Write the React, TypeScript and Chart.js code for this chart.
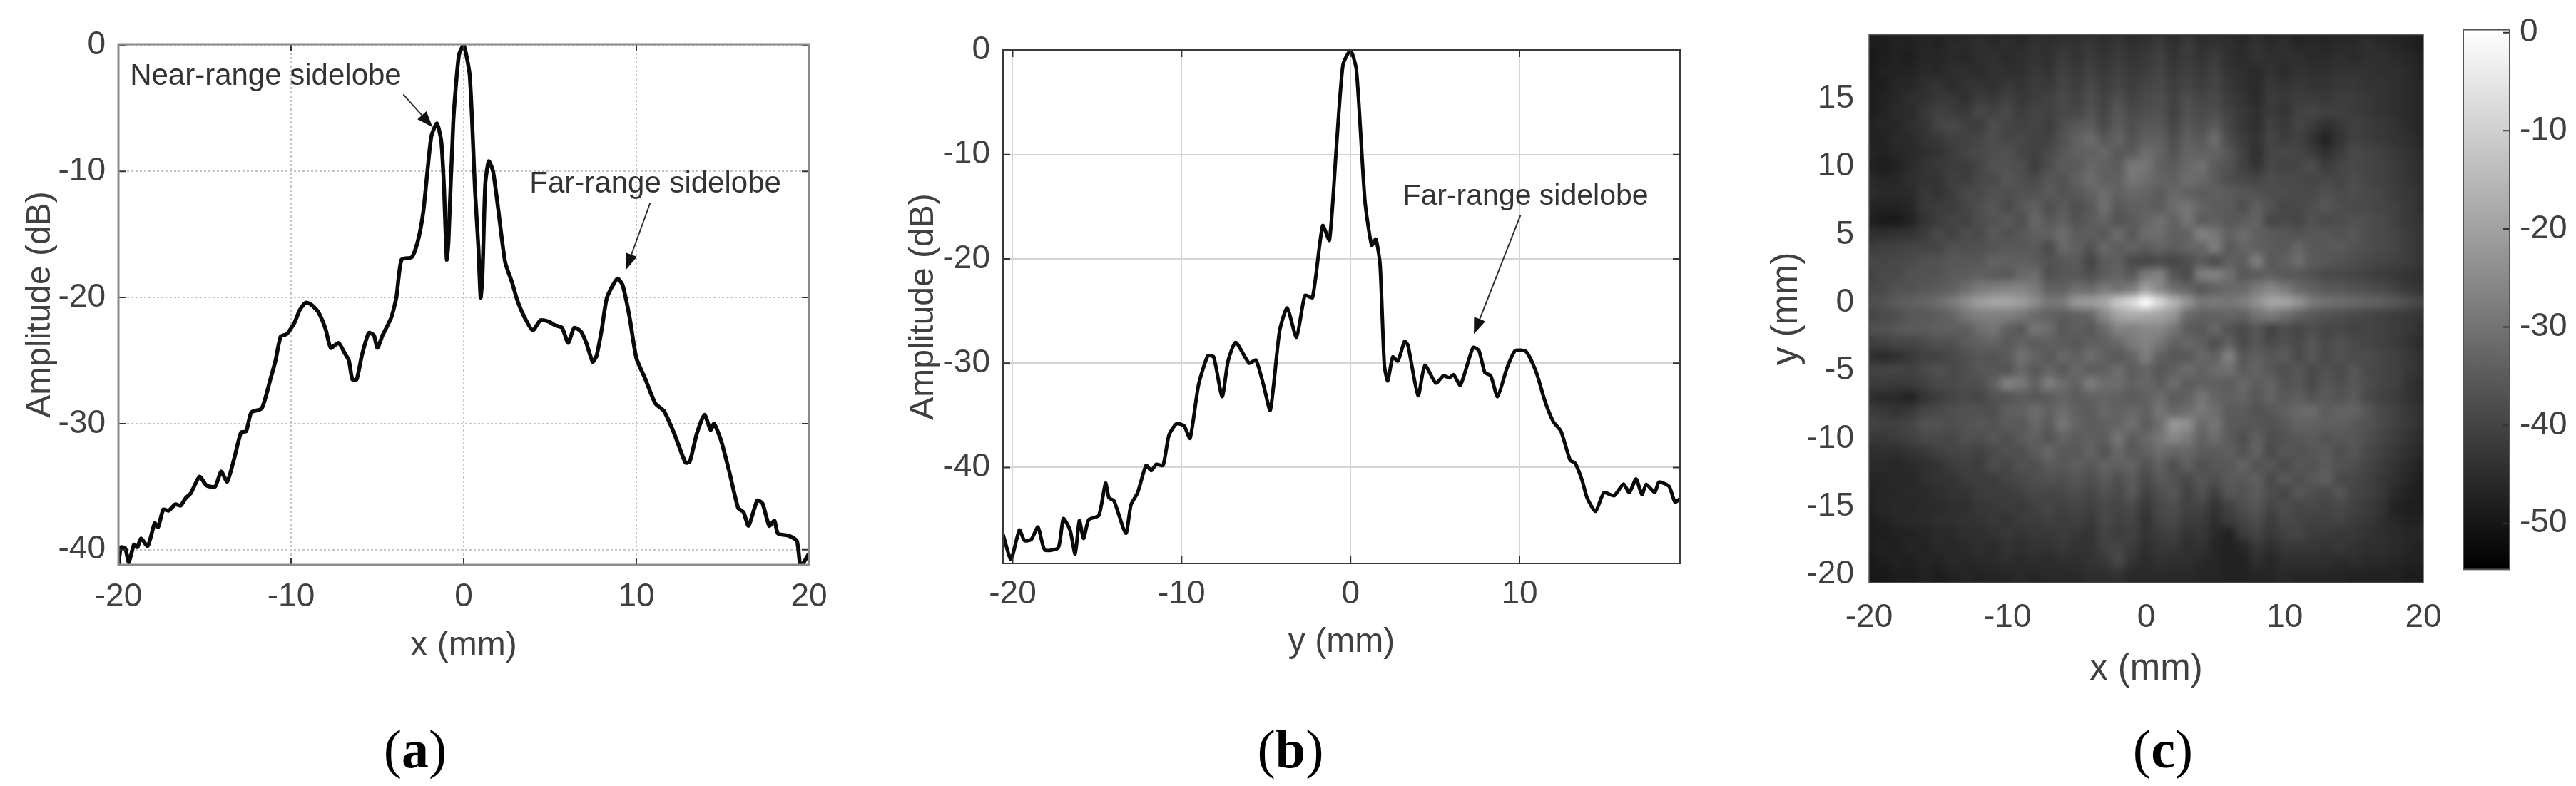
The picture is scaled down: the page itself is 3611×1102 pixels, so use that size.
import React, { useEffect, useRef } from "react";
import { Chart, registerables } from "chart.js";

Chart.register(...registerables);

// ---------- panel (a) ----------
const aX = [-20,-19.85,-19.6,-19.4,-19.1,-18.9,-18.7,-18.3,-17.9,-17.7,-17.4,-17.1,-16.7,-16.4,-16.1,-15.8,-15.3,-14.9,-14.4,-14.05,-13.7,-13.3,-12.9,-12.6,-12.3,-11.7,-11.2,-10.9,-10.6,-10.25,-9.8,-9.5,-9.15,-8.8,-8.4,-8,-7.7,-7.25,-6.9,-6.65,-6.45,-6.2,-5.9,-5.5,-5.2,-5,-4.7,-4.2,-3.9,-3.6,-3,-2.65,-2.34,-2.1,-1.87,-1.55,-1.3,-1.15,-0.98,-0.88,-0.6,-0.28,0,0.35,0.66,0.85,0.98,1.08,1.25,1.45,1.7,2,2.4,2.8,3.1,3.5,4,4.45,4.9,5.3,5.7,6.05,6.4,6.8,7.1,7.47,7.7,8,8.3,8.9,9.2,9.6,10,10.5,11.1,11.6,12.2,12.85,13.1,13.5,13.95,14.3,14.5,14.9,15.4,15.9,16.2,16.5,17,17.3,17.7,18,18.2,18.85,19.3,19.5,19.7,20];
const aY = [-41.2,-39.8,-39.9,-41,-39.6,-39.8,-39.1,-39.7,-37.9,-38.2,-36.8,-36.9,-36.4,-36.5,-35.9,-35.5,-34.2,-34.9,-35,-33.8,-34.6,-32.8,-30.7,-30.6,-29.1,-28.8,-26.5,-25,-23.1,-22.9,-22,-21,-20.4,-20.6,-21.2,-22.5,-24,-23.6,-24.4,-25,-26.5,-26.5,-24.6,-22.8,-23,-24,-23,-21.6,-20,-17,-16.8,-15.5,-13.2,-10,-7.2,-6.2,-7.6,-11,-17,-15.5,-6,-0.8,0,-2.4,-11.6,-16,-20,-18.5,-11,-9.2,-10,-13,-17.2,-18.8,-20.2,-21.5,-22.6,-21.8,-21.9,-22.2,-22.4,-23.6,-22.4,-22.7,-23.6,-25.1,-24.6,-22.5,-20,-18.5,-19,-21.5,-24.8,-26.4,-28.4,-29,-30.8,-33.1,-33,-30.8,-29.3,-30.5,-30,-31.3,-33.9,-36.7,-37,-38.1,-36.1,-36.3,-38.1,-37.7,-38.7,-38.9,-39.3,-41.3,-41,-40.3];
const aXTicks = [-20, -10, 0, 10, 20];
const aYTicks = [0, -10, -20, -30, -40];

// ---------- panel (b) ----------
const bX = [-20.57,-20.1,-19.6,-19.3,-18.9,-18.5,-18.1,-17.3,-17,-16.6,-16.3,-16.05,-15.8,-15.5,-14.9,-14.5,-14.3,-14,-13.3,-13,-12.6,-12.1,-11.8,-11.5,-11.1,-10.75,-10.3,-9.85,-9.5,-9,-8.45,-8.1,-7.6,-7.25,-6.8,-6,-5.6,-5.15,-4.75,-4.2,-3.75,-3.2,-2.7,-2.25,-1.65,-1.25,-0.85,-0.45,0,0.35,0.85,1.25,1.5,1.75,2,2.2,2.5,2.8,3.2,3.4,4,4.4,5.05,5.5,5.85,6.1,6.5,7.25,7.6,7.95,8.3,8.7,9.25,9.75,10.4,11,11.5,12,12.45,13,13.3,13.7,14,14.5,15,15.6,16.15,16.5,16.9,17.25,17.5,18,18.25,18.85,19.2,19.5];
const bY = [-46.4,-48.8,-46,-47,-46.9,-45.7,-47.9,-47.7,-44.9,-46,-48.3,-45.1,-46.8,-45,-44.6,-41.5,-42.9,-43.2,-46.3,-43.6,-42.4,-39.8,-40.3,-39.7,-39.8,-36.9,-35.8,-36,-37.2,-32.1,-29.3,-29.4,-33.2,-29.8,-28,-30,-29.7,-32.1,-34.5,-26.9,-24.7,-27.5,-23.5,-23.7,-16.8,-18.2,-9.6,-1.4,0,-1.9,-14.4,-18.7,-18.1,-20.6,-30.2,-31.7,-29.4,-29.8,-27.9,-28.3,-33.1,-30.2,-31.9,-31.2,-31.4,-31.1,-32.1,-28.5,-28.8,-30.9,-31.2,-33.2,-30.5,-28.8,-28.9,-30.9,-33.6,-35.6,-36.5,-39.3,-39.6,-41.2,-42.9,-44.2,-42.4,-42.7,-41.6,-42.4,-41.1,-42.6,-41.6,-42.4,-41.4,-41.8,-43.3,-43];
const bXTicks = [-20, -10, 0, 10];
const bYTicks = [0, -10, -20, -30, -40];

// ---------- panel (c): attenuation in dB below the peak, one row per y, one column per x ----------
const cColumns = [-20,-19,-18,-17,-16,-15,-14,-13,-12,-11,-10,-9,-8,-7,-6,-5,-4,-3,-2,-1,0,1,2,3,4,5,6,7,8,9,10,11,12,13,14,15,16,17,18,19,20];
const cRows = [19,18,17,16,15,14,13,12,11,10,9,8,7,6,5,4,3,2,1,0,-1,-2,-3,-4,-5,-6,-7,-8,-9,-10,-11,-12,-13,-14,-15,-16,-17,-18,-19,-20];
const cDepth = [
[51,51,50,50,49,50,48,48,47,48,47,48,46,47,46,46,45,47,45,47,46,44,47,44,47,46,47,48,46,48,47,49,48,49,48,48,47,48,49,50,51],
[52,51,50,51,49,49,48,49,47,47,48,47,46,47,44,46,44,46,44,46,45,43,46,44,46,44,47,48,46,47,47,47,48,48,47,48,47,47,48,49,50],
[52,50,50,50,48,49,47,47,48,46,47,47,45,46,43,45,43,45,43,45,44,42,45,43,45,43,46,47,48,46,48,46,47,47,46,46,46,47,47,48,50],
[51,51,49,49,47,46,48,46,46,47,45,46,44,45,42,44,41,44,42,44,42,41,44,42,44,42,45,47,48,45,46,45,46,46,45,45,46,46,47,48,49],
[51,50,49,47,47,45,45,47,44,45,43,45,44,43,41,43,40,43,40,43,41,40,43,40,42,41,44,46,48,44,45,44,44,45,44,44,45,46,47,48,49],
[51,50,48,48,45,43,44,45,41,43,41,44,42,43,41,42,39,42,38,41,40,39,43,39,41,40,43,45,47,44,46,43,42,43,43,44,45,46,47,48,49],
[50,49,49,47,46,42,41,43,44,40,42,43,42,44,40,38,37,41,37,40,38,38,42,38,40,37,42,45,47,43,45,42,44,47,45,43,44,45,46,48,49],
[50,50,48,48,46,45,43,43,42,40,42,41,43,43,39,36,33,38,35,39,36,36,40,36,38,33,41,44,46,42,44,43,46,50,46,43,44,45,46,47,49],
[49,50,49,48,47,46,44,42,41,40,39,42,43,41,38,36,36,34,38,37,33,35,39,35,36,35,38,43,47,42,41,42,44,47,44,41,42,43,45,46,48],
[50,51,50,48,46,45,44,44,42,39,39,40,44,40,37,38,34,36,37,30,31,36,37,34,32,37,39,43,46,41,43,42,40,44,42,41,42,43,44,46,47],
[48,49,49,47,46,46,43,44,41,41,38,40,41,38,39,36,33,36,36,31,33,35,36,33,34,37,40,41,42,40,41,41,42,41,42,40,42,43,44,46,47],
[47,48,48,48,45,46,44,41,41,39,40,39,39,37,39,38,36,33,36,34,35,37,34,36,37,36,37,38,39,40,40,41,41,39,41,40,41,42,44,45,47],
[49,50,50,49,45,44,44,42,40,38,41,38,36,40,37,40,38,32,38,36,36,37,33,31,35,37,37,40,36,39,42,41,40,38,40,41,41,42,43,45,47],
[50,52,52,50,46,44,42,43,40,39,37,40,34,38,36,39,37,35,39,37,35,32,36,31,37,36,38,37,35,42,41,42,39,41,40,39,40,41,43,45,46],
[47,47,46,46,44,41,43,40,41,37,40,38,36,36,33,37,36,38,33,38,33,33,36,36,28,31,36,33,36,37,38,39,38,38,39,38,40,41,42,44,46],
[44,43,43,42,42,42,39,40,39,39,37,38,37,41,34,36,39,34,37,35,37,35,37,35,35,29,38,35,36,37,38,34,38,38,37,39,40,41,42,44,46],
[41,42,41,41,39,39,38,38,38,35,36,36,37,39,38,37,42,37,36,41,42,41,42,40,37,41,36,37,29,38,36,33,37,38,39,40,41,42,43,44,46],
[43,41,41,39,39,39,37,37,36,37,38,34,33,40,38,38,40,37,35,38,30,28,38,41,29,28,32,38,37,36,38,38,39,41,41,42,43,44,45,46,47],
[41,41,39,39,38,37,36,33,30,29,28,28,30,36,36,33,34,30,32,30,22,27,33,35,38,36,34,34,30,27,30,34,36,38,38,39,40,41,43,45,46],
[40,39,37,36,35,33,30,26,22,20,20,22,26,31,30,23,22,20,12,8,0,9,17,24,31,30,31,29,25,20,20,24,30,32,33,34,35,36,38,40,42],
[42,41,40,38,38,37,35,31,29,29,29,31,34,36,37,36,35,27,21,19,20,21,24,34,36,36,35,36,32,30,33,36,38,39,40,41,42,43,44,45,46],
[40,39,38,37,37,36,36,37,33,31,36,38,31,33,38,36,38,34,28,29,27,27,31,37,38,34,39,41,38,43,40,42,40,42,41,43,42,43,44,45,47],
[44,43,42,42,41,39,40,37,36,35,38,35,37,36,37,38,36,36,34,30,28,31,36,34,36,40,36,41,38,41,39,41,38,41,39,41,42,43,44,46,48],
[46,48,47,45,43,43,41,40,38,39,37,32,35,38,34,36,33,36,38,35,29,36,38,38,34,36,28,38,36,38,37,41,38,41,39,41,40,42,43,45,47],
[43,42,42,43,41,39,41,40,38,38,39,34,38,35,38,34,37,36,33,37,35,38,36,33,36,33,32,37,35,38,40,38,41,39,41,38,41,42,43,45,47],
[44,44,45,44,43,41,41,40,40,36,28,30,36,29,33,36,29,33,33,36,34,37,33,37,36,36,37,34,37,35,39,38,41,38,40,38,40,42,43,46,48],
[47,48,48,50,46,44,42,41,42,39,39,37,38,37,35,37,36,35,36,37,36,33,37,36,31,35,36,35,38,35,38,36,39,37,39,37,41,43,44,46,48],
[44,45,46,45,42,41,40,39,39,40,36,36,33,36,33,36,37,34,36,34,36,31,35,33,30,33,37,37,39,38,36,34,33,37,35,35,38,41,43,45,47],
[42,43,43,42,39,39,40,39,38,39,37,38,34,37,31,35,37,36,35,32,37,33,23,25,34,31,37,38,38,39,38,35,36,36,36,38,39,41,43,45,47],
[45,45,44,43,41,41,42,39,40,38,40,37,36,39,35,37,36,37,31,37,34,31,27,30,36,33,37,40,36,40,39,38,37,39,38,38,40,42,44,46,48],
[47,47,47,46,45,43,42,42,43,41,39,40,37,34,38,38,35,39,34,38,36,33,35,34,37,37,36,39,35,41,38,39,38,37,40,38,41,43,45,47,49],
[48,48,49,48,47,46,44,43,44,40,42,39,40,37,38,36,38,35,36,35,39,36,40,36,40,38,38,35,39,38,41,38,39,37,39,40,42,44,46,48,50],
[49,49,48,49,47,46,46,44,44,44,42,41,40,39,40,38,40,37,40,37,41,37,39,41,38,40,37,38,36,41,37,40,38,36,41,41,43,45,47,49,51],
[50,49,49,48,48,47,46,46,44,44,44,43,41,42,41,40,42,39,41,37,43,40,38,43,39,43,38,39,37,40,42,38,40,41,38,42,43,45,48,50,51],
[50,49,48,49,48,48,47,47,45,45,44,45,43,42,43,42,43,41,42,41,45,41,40,43,42,46,43,40,38,42,40,42,41,42,41,43,44,46,50,51,51],
[51,50,49,48,48,47,47,46,46,45,46,44,44,43,44,43,45,41,43,42,46,42,41,44,44,47,44,42,40,44,41,42,43,43,42,44,45,47,49,50,50],
[51,51,50,50,49,48,48,47,47,46,45,46,45,45,44,45,46,42,44,43,46,44,43,46,45,48,50,44,42,45,43,42,44,44,45,45,46,47,48,49,49],
[51,50,51,49,50,48,49,48,47,48,46,47,46,46,45,46,46,43,42,44,47,45,45,47,46,49,50,49,45,47,45,45,45,46,45,46,47,47,48,49,50],
[52,51,50,51,49,50,48,49,48,48,47,48,47,48,47,47,46,45,41,46,48,46,47,47,48,49,50,50,47,49,47,47,47,47,48,47,48,48,49,50,50],
[52,52,51,51,50,51,50,49,50,49,49,48,49,48,48,48,47,47,46,48,48,48,48,48,49,49,50,50,49,49,48,49,49,49,49,50,50,50,50,51,51],
];
const cXTicks = [-20, -10, 0, 10, 20];
const cYTicks = [15, 10, 5, 0, -5, -10, -15, -20];
const barTicks = [0, -10, -20, -30, -40, -50];
const barRange = [-54.7, 0.3];
const grayGain = 0.95;

// ---------- texts ----------
const captions = [
  { open: "(", letter: "a", close: ")", center: 582 },
  { open: "(", letter: "b", close: ")", center: 1809 },
  { open: "(", letter: "c", close: ")", center: 3032 },
];
const aNotes = [
  { text: "Near-range sidelobe", at: [-11.47, -2.5], from: [-3.5, -3.9], to: [-1.8, -6.5] },
  { text: "Far-range sidelobe", at: [11.1, -11], from: [10.8, -12.5], to: [9.4, -17.8] },
];
const bNotes = [
  { text: "Far-range sidelobe", at: [10.36, -14], from: [10.06, -15.8], to: [7.3, -27.2] },
];

const SANS = "'Liberation Sans', Arial, sans-serif";
const INK = "#404040";

function notesPlugin(notes: any[], size: number) {
  return {
    id: "notes",
    afterDraw(chart: any) {
      const { ctx, scales } = chart;
      ctx.save();
      for (const n of notes) {
        ctx.fillStyle = "#333";
        ctx.font = `${size}px ${SANS}`;
        ctx.textAlign = "center";
        ctx.textBaseline = "middle";
        ctx.fillText(n.text, scales.x.getPixelForValue(n.at[0]), scales.y.getPixelForValue(n.at[1]));
        const x0 = scales.x.getPixelForValue(n.from[0]);
        const y0 = scales.y.getPixelForValue(n.from[1]);
        const x1 = scales.x.getPixelForValue(n.to[0]);
        const y1 = scales.y.getPixelForValue(n.to[1]);
        const a = Math.atan2(y1 - y0, x1 - x0);
        ctx.strokeStyle = "#333";
        ctx.lineWidth = 2;
        ctx.beginPath();
        ctx.moveTo(x0, y0);
        ctx.lineTo(x1 - 14 * Math.cos(a), y1 - 14 * Math.sin(a));
        ctx.stroke();
        ctx.fillStyle = "#111";
        ctx.beginPath();
        ctx.moveTo(x1, y1);
        ctx.lineTo(x1 - 24 * Math.cos(a - 0.36), y1 - 24 * Math.sin(a - 0.36));
        ctx.lineTo(x1 - 24 * Math.cos(a + 0.36), y1 - 24 * Math.sin(a + 0.36));
        ctx.closePath();
        ctx.fill();
      }
      ctx.restore();
    },
  };
}

function framePlugin(color: string, width: number, tickColor: string, tickLen: number) {
  return {
    id: "frame",
    afterDraw(chart: any) {
      const { ctx, chartArea: c, scales } = chart;
      ctx.save();
      ctx.strokeStyle = tickColor;
      ctx.lineWidth = 2;
      ctx.beginPath();
      if (tickLen > 0) {
        for (const t of scales.y.ticks) {
          const p = scales.y.getPixelForValue(t.value);
          ctx.moveTo(c.left, p); ctx.lineTo(c.left + tickLen, p);
          ctx.moveTo(c.right, p); ctx.lineTo(c.right - tickLen, p);
        }
        for (const t of scales.x.ticks) {
          const p = scales.x.getPixelForValue(t.value);
          ctx.moveTo(p, c.top); ctx.lineTo(p, c.top + tickLen);
          ctx.moveTo(p, c.bottom); ctx.lineTo(p, c.bottom - tickLen);
        }
      }
      ctx.stroke();
      ctx.strokeStyle = color;
      ctx.lineWidth = width;
      ctx.strokeRect(c.left, c.top, c.right - c.left, c.bottom - c.top);
      ctx.restore();
    },
  };
}

function axis(list: number[], min: number, max: number, tickSize: number, titleText: string, titleSize: number, pad: number, fit: (s: any) => void, grid: any) {
  return {
    type: "linear",
    min,
    max,
    afterBuildTicks: (s: any) => { s.ticks = list.map((value) => ({ value })); },
    afterFit: fit,
    ticks: {
      autoSkip: false,
      maxRotation: 0,
      minRotation: 0,
      padding: pad,
      color: INK,
      font: { family: SANS, size: tickSize },
      callback: (v: any) => String(v),
    },
    title: {
      display: true,
      text: titleText,
      color: INK,
      padding: 0,
      font: { family: SANS, size: titleSize, lineHeight: 1.2 },
    },
    grid: { drawTicks: false, ...grid },
    border: { display: false, dash: grid.dash || [] },
  };
}

function useChart(build: (c: HTMLCanvasElement) => Chart) {
  const ref = useRef<HTMLCanvasElement | null>(null);
  useEffect(() => {
    const chart = build(ref.current as HTMLCanvasElement);
    return () => chart.destroy();
  }, []);
  return ref;
}

const canvasStyle = (left: number, top: number, width: number, height: number): React.CSSProperties => ({
  position: "absolute",
  left,
  top,
  width,
  height,
  filter: "blur(0.7px)",
});

const base = { responsive: false, animation: false, devicePixelRatio: 1, plugins: { legend: { display: false }, tooltip: { enabled: false } } };

function linePanel(canvas: HTMLCanvasElement, o: any) {
  const W = canvas.width;
  const H = canvas.height;
  return new Chart(canvas, {
    type: "scatter",
    data: {
      datasets: [{
        data: o.xs.map((x: number, i: number) => ({ x, y: o.ys[i] })),
        showLine: true,
        borderColor: "#0a0a0a",
        borderWidth: o.lineWidth,
        pointRadius: 0,
        tension: 0.2,
      }],
    },
    options: {
      ...base,
      layout: { padding: { left: o.titleLeft, top: o.top, right: W - o.right, bottom: 0 } },
      scales: {
        x: axis(o.xTicks, o.xMin, o.xMax, 46, o.xTitle, 48, o.xPad, (s: any) => { s.height = H - o.bottom; }, o.grid),
        y: axis(o.yTicks, o.yMin, o.yMax, 46, "Amplitude (dB)", 48, 18, (s: any) => { s.width = o.left - o.titleLeft; }, o.grid),
      },
    } as any,
    plugins: [framePlugin(o.frame, o.frameWidth, "#333", 10), notesPlugin(o.notes, o.noteSize)],
  } as any);
}

function PanelA() {
  const ref = useChart((c) => linePanel(c, {
    xs: aX, ys: aY, xTicks: aXTicks, yTicks: aYTicks, xMin: -20, xMax: 20, yMin: -41.2, yMax: 0.08,
    left: 166, right: 1134, top: 62, bottom: 792, titleLeft: 28,
    xTitle: "x (mm)", xPad: 18, lineWidth: 5.5, frame: "#8c8c8c", frameWidth: 3,
    grid: { color: "#c4c4c4", lineWidth: 2, dash: [3, 3] }, notes: aNotes, noteSize: 42,
  }));
  return <canvas ref={ref} width={1250} height={935} style={canvasStyle(0, 0, 1250, 935)} />;
}

function PanelB() {
  const ref = useChart((c) => linePanel(c, {
    xs: bX, ys: bY, xTicks: bXTicks, yTicks: bYTicks, xMin: -20.57, xMax: 19.5, yMin: -49.2, yMax: 0.04,
    left: 206, right: 1155, top: 70, bottom: 790, titleLeft: 66,
    xTitle: "y (mm)", xPad: 16, lineWidth: 5, frame: "#3a3a3a", frameWidth: 2,
    grid: { color: "#d4d4d4", lineWidth: 2 }, notes: bNotes, noteSize: 41,
  }));
  return <canvas ref={ref} width={1230} height={930} style={canvasStyle(1200, 0, 1230, 930)} />;
}

const heatBlur = {
  id: "heatBlur",
  beforeDatasetsDraw(chart: any) {
    const { ctx, chartArea: c } = chart;
    ctx.save();
    ctx.fillStyle = "rgb(28,28,28)";
    ctx.fillRect(c.left, c.top, c.right - c.left, c.bottom - c.top);
    ctx.restore();
  },
  afterDatasetsDraw(chart: any) {
    const { ctx, chartArea: c, canvas } = chart;
    const w = c.right - c.left;
    const h = c.bottom - c.top;
    ctx.save();
    ctx.beginPath();
    ctx.rect(c.left, c.top, w, h);
    ctx.clip();
    (ctx as any).filter = "blur(6px)";
    ctx.drawImage(canvas, c.left, c.top, w, h, c.left, c.top, w, h);
    ctx.restore();
  },
};

function grayOf(db: number) {
  const g = Math.round(((db * grayGain - barRange[0]) / (0 - barRange[0])) * 255);
  return `rgb(${g},${g},${g})`;
}

function PanelC() {
  const ref = useChart((canvas) => {
    const H = canvas.height;
    const points: any[] = [];
    const colors: string[] = [];
    cRows.forEach((y, r) => {
      cDepth[r].forEach((d, k) => {
        points.push({ x: cColumns[k], y });
        colors.push(grayOf(-d));
      });
    });
    const top = 35, bottom = 817, left = 2620 - 2440, right = 3397 - 2440;
    return new Chart(canvas, {
      type: "scatter",
      data: {
        datasets: [{
          data: points,
          pointStyle: "rect",
          pointRadius: 14.6,
          pointBorderWidth: 0,
          pointBackgroundColor: colors,
        }],
      },
      options: {
        ...base,
        layout: { padding: { left: 34, top, right: canvas.width - right, bottom: 0 } },
        scales: {
          x: axis(cXTicks, -20, 20, 46, "x (mm)", 51, 22, (s: any) => { s.height = H - bottom; }, { display: false }),
          y: axis(cYTicks, -20.6, 19.7, 46, "y (mm)", 51, 21, (s: any) => { s.width = left - 34; }, { display: false }),
        },
      } as any,
      plugins: [heatBlur, framePlugin("#555", 1.5, "#333", 0)],
    } as any);
  });
  return <canvas ref={ref} width={1010} height={970} style={canvasStyle(2440, 0, 1010, 970)} />;
}

function PanelBar() {
  const ref = useChart((canvas) => new Chart(canvas, {
    type: "bar",
    data: {
      labels: ["dB"],
      datasets: [{
        data: [barRange],
        barPercentage: 1,
        categoryPercentage: 1,
        borderWidth: 0,
        backgroundColor: (ctx: any) => {
          const area = ctx.chart.chartArea;
          if (!area) return "#888";
          const g = ctx.chart.ctx.createLinearGradient(0, area.top, 0, area.bottom);
          g.addColorStop(0, "#ffffff");
          g.addColorStop(1, "#000000");
          return g;
        },
      }],
    },
    options: {
      ...base,
      layout: { padding: { left: 0, top: 35, right: 0, bottom: 23 } },
      scales: {
        x: { display: false },
        y: {
          position: "right",
          min: barRange[0],
          max: barRange[1],
          afterBuildTicks: (s: any) => { s.ticks = barTicks.map((value) => ({ value })); },
          afterFit: (s: any) => { s.width = 93; },
          ticks: { autoSkip: false, padding: 14, color: INK, font: { family: SANS, size: 46 }, callback: (v: any) => String(v) },
          grid: { display: false, drawTicks: false },
          border: { display: false },
        },
      },
    } as any,
    plugins: [{
      id: "barFrame",
      afterDraw(chart: any) {
        const { ctx, chartArea: c, scales } = chart;
        ctx.save();
        ctx.strokeStyle = "#333";
        ctx.lineWidth = 2;
        ctx.beginPath();
        for (const t of scales.y.ticks) {
          const p = scales.y.getPixelForValue(t.value);
          ctx.moveTo(c.right, p);
          ctx.lineTo(c.right - 10, p);
        }
        ctx.stroke();
        ctx.strokeStyle = "#555";
        ctx.strokeRect(c.left + 1, c.top, c.right - c.left - 1, c.bottom - c.top);
        ctx.restore();
      },
    }],
  } as any));
  return <canvas ref={ref} width={159} height={840} style={canvasStyle(3452, 0, 159, 840)} />;
}

export default function App() {
  return (
    <div style={{ position: "absolute", left: 0, top: 0, width: 3611, height: 1102, overflow: "hidden", background: "#fff" }}>
      <PanelA />
      <PanelB />
      <PanelC />
      <PanelBar />
      {captions.map((c) => (
        <div
          key={c.letter}
          style={{
            position: "absolute",
            left: c.center - 100,
            width: 200,
            top: 1005,
            textAlign: "center",
            fontFamily: "'Liberation Serif', serif",
            fontSize: 76,
            lineHeight: "90px",
            color: "#000",
          }}
        >
          {c.open}
          <b>{c.letter}</b>
          {c.close}
        </div>
      ))}
    </div>
  );
}
